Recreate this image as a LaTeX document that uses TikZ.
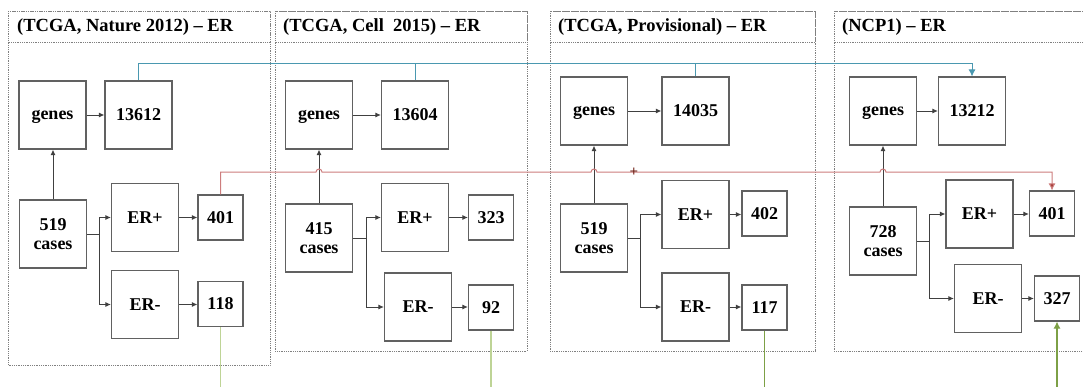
\documentclass[tikz,border=0pt]{standalone}
\usepackage{fontspec}
\setmainfont{Liberation Serif}
\usetikzlibrary{arrows.meta,calc}

\definecolor{linkblue}{RGB}{74,152,176}
\definecolor{linkred}{RGB}{205,125,125}
\definecolor{linkreddark}{RGB}{165,60,55}
\definecolor{linkgreen}{RGB}{190,212,150}
\definecolor{linkgreendark}{RGB}{125,160,70}
\definecolor{plusred}{RGB}{110,30,20}

\tikzset{
  box/.style={draw=black!62, line width=1.1pt, fill=white, align=center,
    inner sep=0pt, font=\fontsize{18}{19}\selectfont\bfseries},
  bigbox/.style={box, minimum width=67pt, minimum height=68pt},
  smallbox/.style={box, minimum width=45pt, minimum height=45pt},
  genebox/.style={bigbox, text depth=0pt},
  tip/.style={-{Latex[length=5.5pt,width=5pt]}},
  flow/.style={draw=black!75, line width=1pt, tip},
  link/.style={draw=black!75, line width=1pt},
  panel/.style={draw=black!50, densely dotted, line width=0.8pt},
  ptitle/.style={anchor=west, inner sep=0pt, font=\fontsize{18.5}{20}\selectfont\bfseries},
  bluelink/.style={draw=linkblue, line width=1pt},
  redlink/.style={draw=linkred, line width=1pt},
  greenlight/.style={draw=linkgreen, line width=1.1pt},
  greendark/.style={draw=linkgreendark, line width=1.1pt},
}

\begin{document}
\begin{tikzpicture}[x=1pt,y=-1pt]
\useasboundingbox (0,0) rectangle (1083,386);
\clip (0,0) rectangle (1083,386);

% dataset panels with their title bars
\draw[panel] (8,11) rectangle (270,365);
\draw[panel] (8,11) rectangle (270,42);
\draw[panel] (275,11) rectangle (527,351);
\draw[panel] (275,11) rectangle (527,42);
\draw[panel] (550,11) rectangle (815,351);
\draw[panel] (550,11) rectangle (815,42);
\draw[panel] (834,11) rectangle (1100,351);
\draw[panel] (834,11) rectangle (1100,42);

\node[ptitle] (h1) at (17,27)  {(TCGA, Nature 2012) -- ER};
\node[ptitle] (h2) at (283,27) {(TCGA, Cell~ 2015) -- ER};
\node[ptitle] (h3) at (558,27) {(TCGA, Provisional) -- ER};
\node[ptitle] (h4) at (842,27) {(NCP1) -- ER};

% panel 1
\node[genebox]  (g1)  at (52.5,115)  {genes};
\node[bigbox]   (t1)  at (138.5,115) {13612};
\node[bigbox]   (c1)  at (53,234)    {519\\cases};
\node[bigbox]   (p1)  at (145,217.5) {ER+};
\node[smallbox] (pn1) at (220.5,217.5) {401};
\node[bigbox]   (m1)  at (145,304.5) {ER-};
\node[smallbox] (mn1) at (220.5,304) {118};

% panel 2
\node[genebox]  (g2)  at (319,115)   {genes};
\node[bigbox]   (t2)  at (415,115)   {13604};
\node[bigbox]   (c2)  at (319,238)   {415\\cases};
\node[bigbox]   (p2)  at (415,217.5) {ER+};
\node[smallbox] (pn2) at (491,217.5) {323};
\node[bigbox]   (m2)  at (418,307)   {ER-};
\node[smallbox] (mn2) at (491,307.5) {92};

% panel 3
\node[genebox]  (g3)  at (594,111)   {genes};
\node[bigbox]   (t3)  at (695.5,111) {14035};
\node[bigbox]   (c3)  at (594,238)   {519\\cases};
\node[bigbox]   (p3)  at (695.5,214.5) {ER+};
\node[smallbox] (pn3) at (764.5,213.5) {402};
\node[bigbox]   (m3)  at (695.5,307) {ER-};
\node[smallbox] (mn3) at (764.5,307.5) {117};

% panel 4
\node[genebox]  (g4)  at (883,111)   {genes};
\node[bigbox]   (t4)  at (972,111)   {13212};
\node[bigbox]   (c4)  at (883,241)   {728\\cases};
\node[bigbox]   (p4)  at (979.5,214) {ER+};
\node[smallbox] (pn4) at (1052,213.5) {401};
\node[bigbox]   (m4)  at (988,298.5) {ER-};
\node[smallbox] (mn4) at (1057,298.5) {327};

% flows inside each panel
\foreach \i/\d in {1/12,2/13,3/12,4/12} {
  \draw[flow] (g\i.east) -- (t\i.west);
  \draw[flow] (c\i.north) -- (c\i.north |- g\i.south);
  \draw[link] (c\i.east) -- ++(\d,0) coordinate (k\i);
  \draw[flow] (k\i) |- (p\i.west);
  \draw[flow] (k\i) |- (m\i.west);
  \draw[flow] (p\i.east) -- (p\i.east -| pn\i.west);
  \draw[flow] (m\i.east) -- (m\i.east -| mn\i.west);
}

% links between panels
\coordinate (bluey) at (0,63);
\coordinate (redy) at (0,172);
\coordinate (groundy) at (0,392);

\draw[bluelink, -{Latex[length=7pt,width=7pt]}] (t1.north) |- (t4.north |- bluey) -- (t4.north);
\draw[bluelink] (t2.north) -- (t2.north |- bluey);
\draw[bluelink] (t3.north) -- (t3.north |- bluey);

\draw[redlink, -{Latex[length=7pt,width=7pt,fill=linkreddark]}]
  (pn1.north) |- ($(c2.north |- redy)-(3,0)$)
  arc[start angle=180, end angle=360, radius=3]
  -- ($(c3.north |- redy)-(3,0)$)
  arc[start angle=180, end angle=360, radius=3]
  -- ($(c4.north |- redy)-(3,0)$)
  arc[start angle=180, end angle=360, radius=3]
  -| (pn4.north);

\node[text=plusred, inner sep=0pt, font=\fontsize{15}{15}\selectfont\bfseries] (plus) at (634,172) {+};

\draw[greenlight] (mn1.south) -- (mn1.south |- groundy);
\draw[greenlight] (mn2.south) -- (mn2.south |- groundy);
\draw[greendark]  (mn3.south) -- (mn3.south |- groundy);
\draw[greendark, -{Latex[length=7pt,width=7pt]}] (mn4.south |- groundy) -- (mn4.south);
\end{tikzpicture}
\end{document}
